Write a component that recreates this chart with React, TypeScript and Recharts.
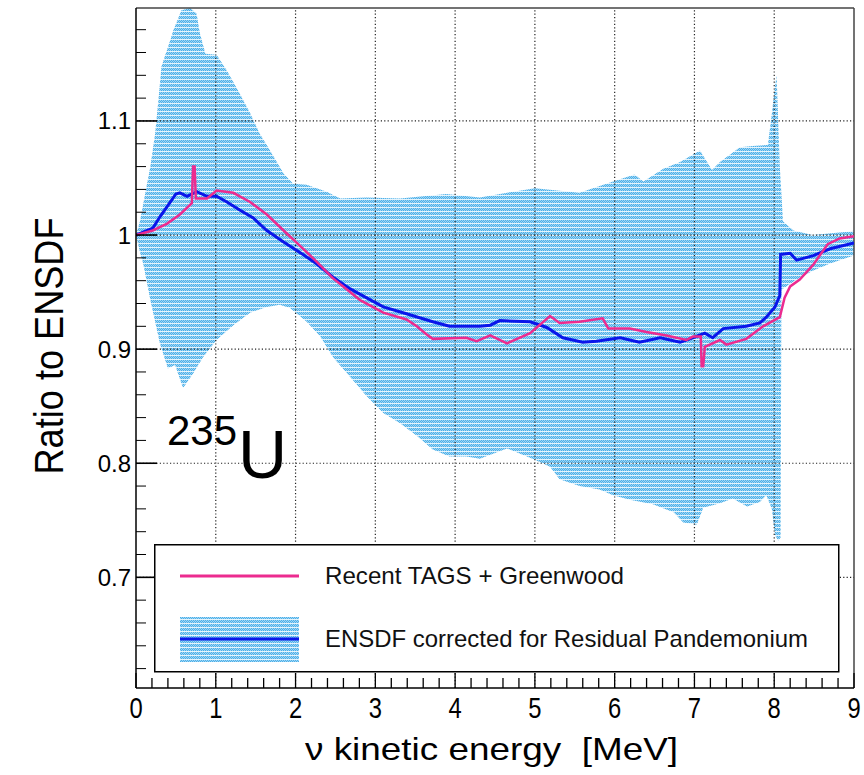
import { ComposedChart, Area, Line, XAxis, YAxis, ReferenceLine, Legend } from 'recharts';

const FONT = '"Liberation Sans", Arial, Helvetica, sans-serif';

// axis ranges
const Y_MIN = 0.603;
const Y_MAX = 1.199;
const X_MIN = 0;
const X_MAX = 9;

const X_LABELS = [0, 1, 2, 3, 4, 5, 6, 7, 8, 9];
const Y_LABELS = [0.7, 0.8, 0.9, 1.0, 1.1];
const Y_LABEL_TEXT = ['0.7', '0.8', '0.9', '1', '1.1'];

// uncertainty band (upper / lower edge)
const upperE = [0, 0.05, 0.13, 0.18, 0.24, 0.28, 0.32, 0.43, 0.47, 0.57, 0.68, 0.76, 0.8, 0.87, 1.01, 1.14, 1.3, 1.43, 1.55, 1.68, 1.85, 1.97, 2.14, 2.39, 2.56, 2.89, 3.31, 3.89, 4.31, 4.73, 5.0, 5.56, 5.98, 6.25, 6.36, 6.61, 6.82, 7.07, 7.15, 7.22, 7.32, 7.57, 7.73, 7.92, 7.97, 8.0, 8.03, 8.07, 8.11, 8.24, 8.48, 8.95, 9.0];
const upper = [1.0, 1.012, 1.042, 1.06, 1.089, 1.118, 1.148, 1.171, 1.18, 1.197, 1.199, 1.194, 1.177, 1.159, 1.158, 1.144, 1.124, 1.107, 1.089, 1.074, 1.054, 1.045, 1.044, 1.038, 1.032, 1.033, 1.032, 1.036, 1.033, 1.038, 1.041, 1.037, 1.047, 1.053, 1.047, 1.058, 1.064, 1.074, 1.065, 1.057, 1.064, 1.077, 1.078, 1.079, 1.106, 1.125, 1.14, 1.06, 1.012, 1.004, 1.0, 1.003, 1.004];

const lowerE = [0, 0.05, 0.09, 0.18, 0.3, 0.4, 0.49, 0.59, 0.72, 0.84, 1.01, 1.22, 1.43, 1.64, 1.8, 1.93, 2.14, 2.31, 2.47, 2.68, 2.89, 3.1, 3.31, 3.52, 3.72, 3.93, 4.14, 4.31, 4.65, 5.0, 5.19, 5.31, 5.56, 5.81, 5.98, 6.19, 6.48, 6.74, 6.86, 7.03, 7.11, 7.32, 7.48, 7.66, 7.82, 7.9, 7.97, 8.01, 8.05, 8.08, 8.09, 8.28, 8.49, 8.7, 8.95, 9.0];
const lower = [1.0, 0.985, 0.975, 0.943, 0.905, 0.883, 0.886, 0.866, 0.879, 0.893, 0.908, 0.921, 0.932, 0.937, 0.939, 0.936, 0.924, 0.911, 0.893, 0.876, 0.859, 0.844, 0.835, 0.824, 0.812, 0.806, 0.806, 0.804, 0.813, 0.803, 0.797, 0.786, 0.78, 0.777, 0.772, 0.768, 0.764, 0.757, 0.748, 0.746, 0.761, 0.765, 0.769, 0.762, 0.766, 0.772, 0.76, 0.737, 0.732, 0.735, 0.952, 0.961, 0.969, 0.975, 0.981, 0.982];

// ENSDF corrected for Residual Pandemonium
const ensdfE = [0, 0.21, 0.3, 0.39, 0.5, 0.55, 0.64, 0.76, 0.89, 1.01, 1.14, 1.3, 1.47, 1.64, 1.85, 2.05, 2.26, 2.47, 2.68, 2.81, 3.1, 3.39, 3.72, 3.93, 4.14, 4.31, 4.44, 4.56, 4.94, 5.15, 5.35, 5.6, 5.77, 6.07, 6.31, 6.57, 6.82, 6.98, 7.13, 7.23, 7.36, 7.65, 7.82, 7.9, 8.01, 8.07, 8.08, 8.2, 8.28, 8.49, 8.7, 9.0];
const ensdf = [1.0, 1.006, 1.016, 1.025, 1.036, 1.037, 1.034, 1.038, 1.034, 1.034, 1.029, 1.022, 1.015, 1.004, 0.994, 0.985, 0.975, 0.963, 0.953, 0.948, 0.937, 0.931, 0.924, 0.92, 0.92, 0.92, 0.921, 0.925, 0.924, 0.919, 0.91, 0.906, 0.907, 0.91, 0.906, 0.91, 0.906, 0.91, 0.914, 0.91, 0.918, 0.92, 0.923, 0.928, 0.937, 0.947, 0.983, 0.984, 0.978, 0.982, 0.988, 0.993];

// Recent TAGS + Greenwood
const tagsE = [0, 0.21, 0.39, 0.55, 0.7, 0.715, 0.735, 0.75, 0.89, 1.01, 1.22, 1.43, 1.64, 1.85, 2.05, 2.26, 2.47, 2.81, 3.1, 3.39, 3.52, 3.64, 3.72, 4.14, 4.27, 4.44, 4.65, 4.94, 5.19, 5.31, 5.56, 5.85, 5.92, 6.19, 6.4, 6.65, 6.9, 6.98, 7.08, 7.09, 7.11, 7.13, 7.32, 7.4, 7.65, 7.86, 8.07, 8.13, 8.2, 8.32, 8.49, 8.67, 8.82, 9.0];
const tags = [1.0, 1.004, 1.01, 1.018, 1.028, 1.06, 1.06, 1.032, 1.032, 1.039, 1.037, 1.029, 1.018, 1.004, 0.991, 0.977, 0.962, 0.943, 0.932, 0.926, 0.92, 0.913, 0.909, 0.91, 0.907, 0.912, 0.905, 0.914, 0.929, 0.923, 0.924, 0.927, 0.918, 0.918, 0.915, 0.912, 0.908, 0.911, 0.911, 0.885, 0.885, 0.902, 0.908, 0.904, 0.909, 0.92, 0.928, 0.945, 0.955, 0.961, 0.974, 0.992, 0.997, 0.999];

const rows: Record<string, number>[] = [];
upperE.forEach((e, i) => rows.push({ e, upper: upper[i] }));
lowerE.forEach((e, i) => rows.push({ e, lower: lower[i] }));
ensdfE.forEach((e, i) => rows.push({ e, ensdf: ensdf[i] }));
tagsE.forEach((e, i) => rows.push({ e, tags: tags[i] }));
rows.sort((a, b) => a.e - b.e);

const xTicks: number[] = [];
for (let i = 0; i <= 45; i++) xTicks.push(Math.round(i * 20) / 100);
const yTicks: number[] = [];
for (let i = 31; i <= 59; i++) yTicks.push(Math.round(i * 2) / 100);

const isMajor = (v: number, step: number) => Math.abs(v / step - Math.round(v / step)) < 1e-6;

const BandPattern = ({ id }: { id: string }) => (
  <pattern id={id} width="2" height="4" patternUnits="userSpaceOnUse">
    <rect width="2" height="4" fill="#4cafe8" />
    <rect x="0" y="0" width="1" height="1" fill="#9fd6f5" />
    <rect x="1" y="1" width="1" height="1" fill="#9fd6f5" />
    <rect x="0" y="2" width="1" height="1" fill="#9fd6f5" />
    <rect x="0" y="3" width="2" height="1" fill="#e6f4fc" />
  </pattern>
);

const XTick = (props: any) => {
  const { x, y, payload } = props;
  const v = payload.value;
  const major = isMajor(v, 1);
  return (
    <g>
      <line x1={x} x2={x} y1={y} y2={y - (major ? 15 : 10)} stroke="#000" strokeWidth={1.3} />
      {major && (
        <text transform={`translate(${x},${y + 30}) scale(0.82,1)`} textAnchor="middle" fontSize={29} fontFamily={FONT} fill="#000">
          {Math.round(v)}
        </text>
      )}
    </g>
  );
};

const YTick = (props: any) => {
  const { x, y, payload } = props;
  const v = payload.value;
  const idx = Y_LABELS.findIndex((l) => Math.abs(l - v) < 1e-6);
  const major = idx >= 0;
  return (
    <g>
      <line x1={x} x2={x + (major ? 21 : 10)} y1={y} y2={y} stroke="#000" strokeWidth={major ? 1.6 : 1} />
      {major && (
        <text x={x - 5} y={y + 8.5} textAnchor="end" fontSize={24} fontFamily={FONT} fill="#000">
          {Y_LABEL_TEXT[idx]}
        </text>
      )}
    </g>
  );
};

const LegendBox = () => (
  <svg width={686} height={129} style={{ display: 'block' }}>
    <defs>
      <BandPattern id="bandLegend" />
    </defs>
    <rect x={0.75} y={0.75} width={684} height={127} fill="#fff" stroke="#000" strokeWidth={1.5} />
    <line x1={26} x2={145} y1={32} y2={32} stroke="#ec2b8f" strokeWidth={3} />
    <text x={171} y={40} fontSize={24} fontFamily={FONT} fill="#111" textLength={299} lengthAdjust="spacingAndGlyphs">
      Recent TAGS + Greenwood
    </text>
    <rect x={26} y={73} width={119} height={45} fill="url(#bandLegend)" />
    <line x1={26} x2={145} y1={95} y2={95} stroke="#0a16ea" strokeWidth={3} />
    <text x={171} y={103} fontSize={24} fontFamily={FONT} fill="#111" textLength={483} lengthAdjust="spacingAndGlyphs">
      ENSDF corrected for Residual Pandemonium
    </text>
  </svg>
);

export default function App() {
  return (
    <div style={{ position: 'absolute', left: 0, top: 0, width: 864, height: 775, background: '#fff' }}>
      <ComposedChart width={864} height={775} data={rows} margin={{ top: 8, right: 10, bottom: 0, left: 0 }}>
        <defs>
          <BandPattern id="bandFill" />
        </defs>
        <XAxis
          type="number"
          dataKey="e"
          domain={[X_MIN, X_MAX]}
          allowDataOverflow
          ticks={xTicks}
          interval={0}
          height={87}
          tickSize={0}
          tickMargin={0}
          tickLine={false}
          axisLine={{ stroke: '#000', strokeWidth: 1.5 }}
          tick={<XTick />}
        />
        <YAxis
          type="number"
          domain={[Y_MIN, Y_MAX]}
          allowDataOverflow
          ticks={yTicks}
          interval={0}
          width={136}
          tickSize={0}
          tickMargin={0}
          tickLine={false}
          axisLine={{ stroke: '#000', strokeWidth: 1.5 }}
          tick={<YTick />}
        />
        <Area dataKey="upper" type="linear" baseValue="dataMin" stroke="none" fill="url(#bandFill)" fillOpacity={1} connectNulls isAnimationActive={false} />
        <Area dataKey="lower" type="linear" baseValue="dataMin" stroke="none" fill="#fff" fillOpacity={1} connectNulls isAnimationActive={false} />
        {X_LABELS.filter((v) => v > X_MIN && v < X_MAX).map((v) => (
          <ReferenceLine key={`gx${v}`} x={v} stroke="#222" strokeWidth={1.2} strokeDasharray="1.2 2.2" />
        ))}
        {Y_LABELS.map((v) => (
          <ReferenceLine key={`gy${v}`} y={v} stroke="#222" strokeWidth={1.2} strokeDasharray="1.2 2.2" />
        ))}
        <ReferenceLine y={Y_MAX} stroke="#444" strokeWidth={1.5} />
        <ReferenceLine x={X_MAX} stroke="#444" strokeWidth={1.5} />
        <Line dataKey="ensdf" type="linear" stroke="#0a16ea" strokeWidth={3} dot={false} connectNulls isAnimationActive={false} />
        <Line dataKey="tags" type="linear" stroke="#ec2b8f" strokeWidth={2.5} dot={false} connectNulls isAnimationActive={false} />
        <Legend
          layout="horizontal"
          verticalAlign="middle"
          align="center"
          width={686}
          height={129}
          wrapperStyle={{ left: 154, top: 544, width: 686, height: 129 }}
          content={() => <LegendBox />}
        />
      </ComposedChart>
      <svg width={864} height={775} style={{ position: 'absolute', left: 0, top: 0, pointerEvents: 'none' }}>
        <text transform="translate(63,346) rotate(-90)" textAnchor="middle" fontSize={41} fontFamily={FONT} fill="#000" textLength={257} lengthAdjust="spacingAndGlyphs">
          Ratio to ENSDF
        </text>
        <text x={491.5} y={760} textAnchor="middle" fontSize={32} fontFamily={FONT} fill="#000" textLength={373} lengthAdjust="spacingAndGlyphs" style={{ whiteSpace: 'pre' }}>
          {'\u03bd kinetic energy  [MeV]'}
        </text>
        <text x={167} y={445} fontSize={42} fontFamily={FONT} fill="#000">235</text>
        <text x={238} y={478} fontSize={68} fontFamily={FONT} fill="#000">U</text>
      </svg>
    </div>
  );
}
